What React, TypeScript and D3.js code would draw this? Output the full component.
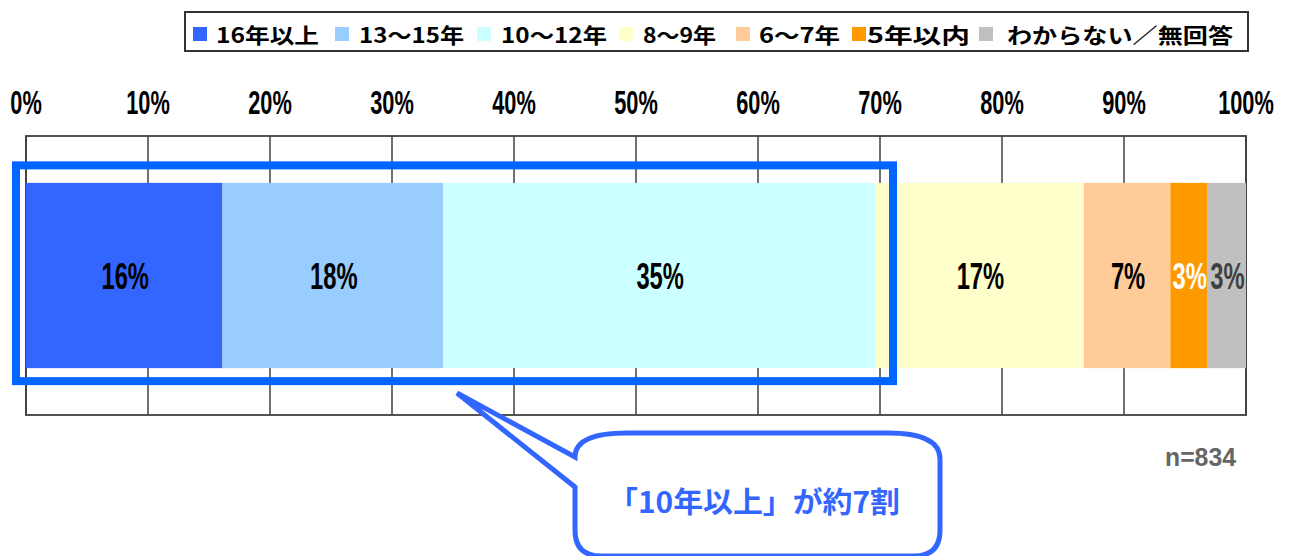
import React from "react";
import * as d3 from "d3";

const categories = ["16年以上", "13～15年", "10～12年", "8～9年", "6～7年", "5年以内", "わからない／無回答"];
const values = [16.1, 18.1, 35.4, 17.1, 7.1, 3.0, 3.2];
const valueLabels = ["16%", "18%", "35%", "17%", "7%", "3%", "3%"];
const tickValues = [0, 10, 20, 30, 40, 50, 60, 70, 80, 90, 100];
const tickLabels = ["0%", "10%", "20%", "30%", "40%", "50%", "60%", "70%", "80%", "90%", "100%"];
const rowName = ["全体"];
const sampleNote = "n=834";
const calloutText = "「10年以上」が約7割";

const colors = ["#3366ff", "#99ccff", "#ccffff", "#ffffcc", "#ffcc99", "#ff9900", "#c0c0c0"];
const labelColors = ["#000", "#000", "#000", "#000", "#000", "#fff", "#404040"];

// legend layout (marker x, text start, text end)
const legendMarkerX = [193, 335, 477, 619, 736, 852, 979];
const legendTextX = [216, 359, 501, 643, 759, 867, 1007];
const legendTextEnd = [319, 464, 607, 716, 840, 970, 1233];

const W = 1292;
const H = 556;

export default function App() {
  const x = d3.scaleLinear().domain([0, 100]).range([26, 1246]);
  const plotTop = 136;
  const plotBottom = 415;
  const y = d3
    .scaleBand<string>()
    .domain(rowName)
    .range([plotTop, plotBottom])
    .paddingInner(0.336)
    .paddingOuter(0.164);

  const stack = d3.cumsum(values);
  const segs = values.map((v, i) => ({
    cat: categories[i],
    x0: i === 0 ? 0 : stack[i - 1],
    x1: stack[i],
    label: valueLabels[i],
  }));

  const by = y(rowName[0]) as number;
  const bh = y.bandwidth();
  const digitFont = "'Liberation Sans', Arial, sans-serif";
  const jpFont = "'Noto Sans CJK JP', 'Noto Sans', sans-serif";

  // highlight rectangle around first three segments
  const hlLeft = x(0) - 10;
  const hlRight = x(70) + 13;
  const hlTop = by - 17.5;
  const hlBottom = by + bh + 13;

  // callout
  const cbL = 575, cbR = 940, cbT = 433, cbB = 556, r = 26;
  const tip = [457, 393];
  const calloutPath = [
    `M ${cbL} ${cbT + 24}`,
    `L ${tip[0]} ${tip[1]}`,
    `L ${cbL} ${cbT + 54}`,
    `L ${cbL} ${cbB - r}`,
    `Q ${cbL} ${cbB} ${cbL + r} ${cbB}`,
    `L ${cbR - r} ${cbB}`,
    `Q ${cbR} ${cbB} ${cbR} ${cbB - r}`,
    `L ${cbR} ${cbT + r}`,
    `Q ${cbR} ${cbT} ${cbR - r * 2} ${cbT}`,
    `L ${cbL + r * 2} ${cbT}`,
    `Q ${cbL} ${cbT} ${cbL} ${cbT + 24}`,
    "Z",
  ].join(" ");

  return (
    <svg
      width={W}
      height={H}
      style={{ position: "absolute", left: 0, top: 0, background: "#fff" }}
    >
      <rect x={0} y={0} width={W} height={H} fill="#fff" />
      {/* legend */}
      <rect x={185} y={12} width={1063} height={39} fill="#fff" stroke="#333" strokeWidth={2} />
      {categories.map((c, i) => (
        <g key={c}>
          <rect x={legendMarkerX[i]} y={27} width={14} height={14} fill={colors[i]} />
          <text
            x={legendTextX[i]}
            y={34}
            dominantBaseline="central"
            fontFamily={jpFont}
            fontWeight="bold"
            fontSize={21}
            textLength={legendTextEnd[i] - legendTextX[i]}
            lengthAdjust="spacingAndGlyphs"
            fill="#000"
          >
            {c}
          </text>
        </g>
      ))}

      {/* tick labels */}
      {tickValues.map((t, i) => (
        <g key={t} transform={`translate(${x(t)},114) scale(0.66,1)`}>
          <text
            textAnchor="middle"
            fontFamily={digitFont}
            fontWeight="bold"
            fontSize={33}
            fill="#000"
          >
            {tickLabels[i]}
          </text>
        </g>
      ))}

      {/* frame and gridlines */}
      {tickValues.map((t) => (
        <line
          key={"g" + t}
          x1={x(t)}
          x2={x(t)}
          y1={plotTop}
          y2={plotBottom}
          stroke="#404040"
          strokeWidth={1.5}
        />
      ))}
      <rect
        x={x(0)}
        y={plotTop}
        width={x(100) - x(0)}
        height={plotBottom - plotTop}
        fill="none"
        stroke="#404040"
        strokeWidth={1.8}
      />

      {/* bar */}
      {segs.map((s, i) => (
        <rect
          key={s.cat}
          x={x(s.x0)}
          y={by}
          width={x(s.x1) - x(s.x0)}
          height={bh}
          fill={colors[i]}
        />
      ))}
      {segs.map((s, i) => (
        <g
          key={"l" + s.cat}
          transform={`translate(${(x(s.x0) + x(s.x1)) / 2 + 1},${by + bh / 2 + 13}) scale(0.66,1)`}
        >
          <text
            textAnchor="middle"
            fontFamily={digitFont}
            fontWeight="bold"
            fontSize={36}
            fill={labelColors[i]}
          >
            {s.label}
          </text>
        </g>
      ))}

      {/* highlight */}
      <rect
        x={hlLeft}
        y={hlTop}
        width={hlRight - hlLeft}
        height={hlBottom - hlTop}
        fill="none"
        stroke="#0066ff"
        strokeWidth={8}
      />

      {/* n */}
      <text
        x={1236}
        y={466}
        textAnchor="end"
        fontFamily={digitFont}
        fontWeight="bold"
        fontSize={25}
        textLength={71}
        lengthAdjust="spacingAndGlyphs"
        fill="#666"
      >
        {sampleNote}
      </text>

      {/* callout */}
      <path d={calloutPath} fill="#fff" stroke="#3366ff" strokeWidth={5} strokeLinejoin="miter" />
      <text
        x={608}
        y={500}
        dominantBaseline="central"
        fontFamily={jpFont}
        fontWeight="bold"
        fontSize={29}
        textLength={292}
        lengthAdjust="spacingAndGlyphs"
        fill="#3366ff"
      >
        {calloutText}
      </text>
    </svg>
  );
}
